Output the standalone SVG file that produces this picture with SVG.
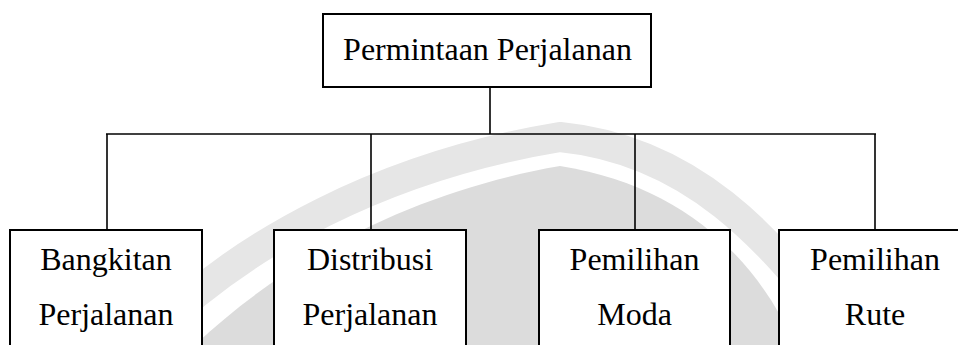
<svg xmlns="http://www.w3.org/2000/svg" width="958" height="345" viewBox="0 0 958 345">
  <style>
    .box { fill: #ffffff; stroke: #000000; stroke-width: 2; }
    .lbl { font-size: 32px; fill: #000000; text-anchor: middle; }
    .conn { stroke: #000000; stroke-width: 1.6; fill: none; }
    .wm { fill: none; stroke: #e6e6e6; }
  </style>
  <rect x="0" y="0" width="958" height="345" fill="#ffffff"/>
  <g id="watermark">
    <path d="M 195,345 C 290,255 420,190 560,166 C 680,185 755,255 795,345 Z" fill="#dcdcdc"/>
    <path class="wm" stroke-width="30" d="M 140,345 C 240,240 390,165 560,137 C 690,150 770,235 850,345"/>
  </g>
  <g id="connectors">
    <line class="conn" x1="490" y1="87" x2="490" y2="134"/>
    <line class="conn" x1="106" y1="134" x2="876" y2="134"/>
    <line class="conn" x1="107" y1="134" x2="107" y2="230"/>
    <line class="conn" x1="371" y1="134" x2="371" y2="230"/>
    <line class="conn" x1="635" y1="134" x2="635" y2="230"/>
    <line class="conn" x1="875" y1="134" x2="875" y2="230"/>
  </g>
  <g font-family="'Liberation Serif', 'Times New Roman', 'DejaVu Serif', serif">
    <g id="node-permintaan">
      <rect class="box" x="323" y="14" width="328" height="73"/>
      <text class="lbl" x="487.5" y="60">Permintaan Perjalanan</text>
    </g>
    <g id="node-bangkitan">
      <rect class="box" x="10" y="230" width="192" height="130"/>
      <text class="lbl" x="106" y="270">Bangkitan</text>
      <text class="lbl" x="106" y="325">Perjalanan</text>
    </g>
    <g id="node-distribusi">
      <rect class="box" x="274" y="230" width="192" height="130"/>
      <text class="lbl" x="370" y="270">Distribusi</text>
      <text class="lbl" x="370" y="325">Perjalanan</text>
    </g>
    <g id="node-moda">
      <rect class="box" x="539" y="230" width="191" height="130"/>
      <text class="lbl" x="634.5" y="270">Pemilihan</text>
      <text class="lbl" x="634.5" y="325">Moda</text>
    </g>
    <g id="node-rute">
      <rect class="box" x="779" y="230" width="192" height="130"/>
      <text class="lbl" x="875" y="270">Pemilihan</text>
      <text class="lbl" x="875" y="325">Rute</text>
    </g>
  </g>
</svg>
